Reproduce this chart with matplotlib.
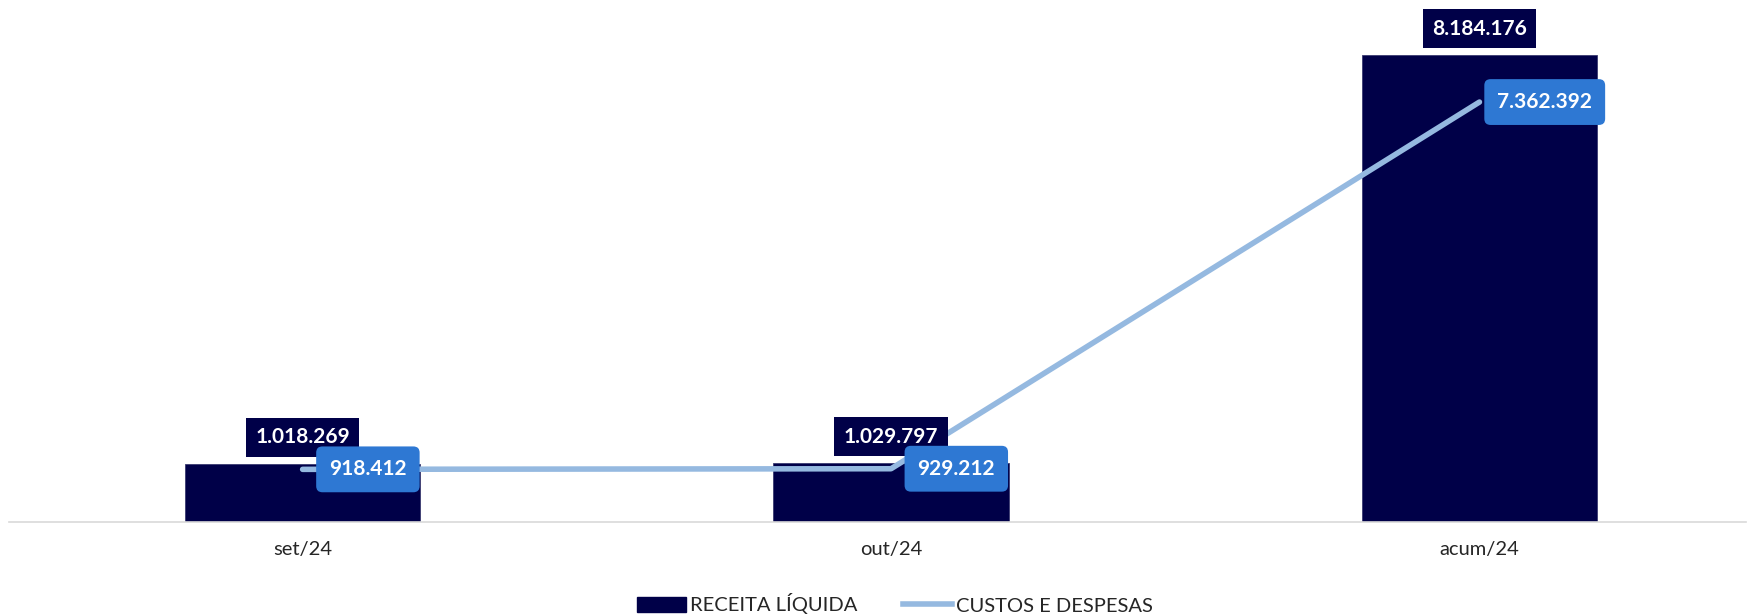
import numpy as np
import matplotlib.pyplot as plt
from matplotlib.patches import Rectangle
from matplotlib.lines import Line2D

categorias = ['set/24', 'out/24', 'acum/24']
receita = [1018269, 1029797, 8184176]
custos = [918412, 929212, 7362392]
rot_receita = ['1.018.269', '1.029.797', '8.184.176']
rot_custos = ['918.412', '929.212', '7.362.392']

navy = '#000048'
linha = '#95B9E0'
caixa = '#2E78D3'

plt.rcParams['font.family'] = ['Lato', 'DejaVu Sans']

fig = plt.figure(figsize=(17.55, 6.14), dpi=100)
ax = fig.add_axes([9/1755, (614-521.7)/614, (1746-9)/1755, (521.7-8.7)/614])

x = np.arange(len(categorias))
ax.bar(x, receita, width=0.4, color=navy, edgecolor='#3a3a70', linewidth=0.6, zorder=2)
ax.plot(x, custos, color=linha, linewidth=4, solid_capstyle='round', solid_joinstyle='round', zorder=3)

ax.set_xlim(-0.499, 2.453)
ax.set_ylim(0, 9.0e6)

for xi, v, t in zip(x, receita, rot_receita):
    ax.annotate(t, (xi, v), xytext=(0, 19), textcoords='offset points', ha='center', va='center',
                color='white', fontsize=15, fontweight='bold', zorder=5,
                bbox=dict(boxstyle='square,pad=0.45', fc=navy, ec='none'))

for xi, v, t in zip(x, custos, rot_custos):
    ax.annotate(t, (xi, v), xytext=(47, 0), textcoords='offset points', ha='center', va='center',
                color='white', fontsize=15, fontweight='bold', zorder=6,
                bbox=dict(boxstyle='round,pad=0.62,rounding_size=0.3', fc=caixa, ec='none'))

for s in ['top', 'right', 'left']:
    ax.spines[s].set_visible(False)
ax.spines['bottom'].set_color('#D9D9D9')
ax.spines['bottom'].set_linewidth(1.2)
ax.set_yticks([])
ax.set_xticks(x)
ax.set_xticklabels(categorias, fontsize=14.5, color='#262626')
ax.tick_params(axis='x', length=0, pad=14)

handles = [Rectangle((0, 0), 1, 1, color=navy), Line2D([0], [0], color=linha, linewidth=4)]
fig.legend(handles, ['RECEITA LÍQUIDA', 'CUSTOS E DESPESAS'], loc='center', bbox_to_anchor=(0.51, 10/614),
           ncol=2, frameon=False, fontsize=14.5, handlelength=2.4, handletextpad=0.2, columnspacing=2.3,
           labelcolor='#262626')

fig.savefig('out.png', dpi=100)
